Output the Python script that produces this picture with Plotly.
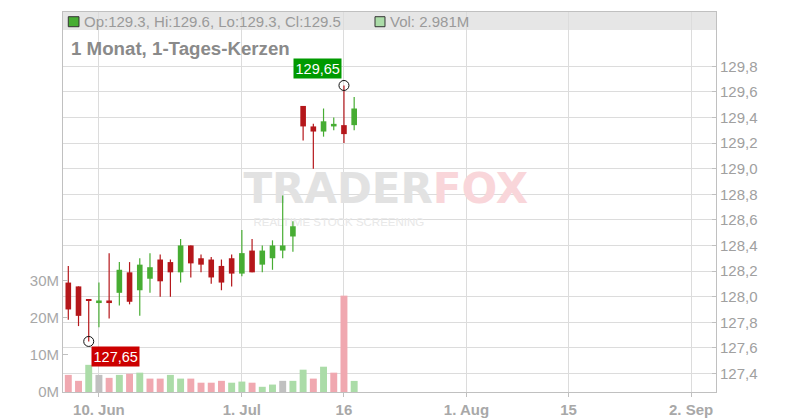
import plotly.graph_objects as go
import pandas as pd

# ---------------- data ----------------
dates = ["2024-06-05", "2024-06-06", "2024-06-07", "2024-06-10", "2024-06-11", "2024-06-12",
         "2024-06-13", "2024-06-14", "2024-06-17", "2024-06-18", "2024-06-20", "2024-06-21",
         "2024-06-24", "2024-06-25", "2024-06-26", "2024-06-27", "2024-06-28", "2024-07-01",
         "2024-07-02", "2024-07-03", "2024-07-05", "2024-07-08", "2024-07-09", "2024-07-10",
         "2024-07-11", "2024-07-12", "2024-07-15", "2024-07-16", "2024-07-17"]
opens = [128.11, 128.08, 127.98, 127.95, 127.97, 128.03, 128.19, 128.05, 128.14, 128.29,
         128.27, 128.19, 128.40, 128.30, 128.29, 128.24, 128.30, 128.18, 128.36, 128.25,
         128.30, 128.36, 128.47, 129.49, 129.33, 129.29, 129.33, 129.34, 129.34]
highs = [128.24, 128.08, 127.98, 128.11, 128.34, 128.27, 128.27, 128.30, 128.34, 128.33,
         128.29, 128.45, 128.40, 128.33, 128.31, 128.29, 128.33, 128.52, 128.45, 128.40,
         128.44, 128.79, 128.59, 129.49, 129.35, 129.47, 129.40, 129.65, 129.56]
lows = [127.82, 127.77, 127.65, 127.76, 127.83, 127.93, 127.94, 127.85, 128.03, 128.00,
        128.00, 128.11, 128.15, 128.19, 128.10, 128.05, 128.08, 128.16, 128.19, 128.19,
        128.21, 128.30, 128.35, 129.22, 129.00, 129.25, 129.30, 129.20, 129.30]
closes = [127.90, 127.85, 127.97, 127.97, 127.95, 128.21, 127.96, 128.25, 128.23, 128.12,
          128.19, 128.40, 128.26, 128.25, 128.15, 128.11, 128.18, 128.34, 128.19, 128.36,
          128.40, 128.40, 128.55, 129.33, 129.29, 129.37, 129.35, 129.27, 129.47]
volumes_m = [4.6, 3.0, 7.3, 4.6, 3.8, 4.6, 4.9, 5.2, 3.6, 3.6, 4.6, 3.6, 3.6, 2.5, 2.5,
             3.0, 2.5, 2.8, 2.5, 1.4, 2.0, 3.0, 3.0, 6.0, 3.6, 6.8, 5.2, 25.9, 2.981]

holidays = ["2024-06-19", "2024-07-04"]
tick_dates = ["2024-06-10", "2024-07-01", "2024-07-16", "2024-08-01", "2024-08-15", "2024-09-02"]
tick_labels = ["10. Jun", "1. Jul", "16", "1. Aug", "15", "2. Sep"]
price_ticks = [127.4, 127.6, 127.8, 128.0, 128.2, 128.4, 128.6, 128.8, 129.0, 129.2, 129.4, 129.6, 129.8]
vol_ticks = [0, 10, 20, 30]
title_text = "1 Monat, 1-Tages-Kerzen"

# ---------------- styles ----------------
FONT = "Liberation Sans, Arial, sans-serif"
RED = "#b5171b"
GREEN = "#47ad33"
V_RED = "#f0a8b0"
V_GREEN = "#abdca8"
V_GRAY = "#c0c0c0"
GRID = "#dcdcdc"
AXIS = "#c0c0c0"

# trading-day calendar -> x index
cal = [d.strftime("%Y-%m-%d") for d in pd.bdate_range("2024-06-05", "2024-09-06")]
cal = [d for d in cal if d not in holidays]
pos = {d: i for i, d in enumerate(cal)}
xs = [pos[d] for d in dates]
tick_x = [pos[d] for d in tick_dates]

up = [c >= o for o, c in zip(opens, closes)]
body_base = [min(o, c) for o, c in zip(opens, closes)]
body_h = [abs(c - o) for o, c in zip(opens, closes)]
body_col = [GREEN if u else RED for u in up]

vol_col = []
for i, c in enumerate(closes):
    ref = closes[i - 1] if i > 0 else opens[0]
    vol_col.append(V_GREEN if c > ref else (V_RED if c < ref else V_GRAY))

fig = go.Figure()

# watermark (drawn first so marks lie above it)
fig.add_trace(go.Scatter(
    x=[31.1], y=[128.81], mode="text",
    text=["<span style='color:#e2e2e2'>TRADER</span><span style='color:#f9d6da'>FOX</span>"],
    textfont=dict(family="DejaVu Sans", size=42, weight="bold"),
    hoverinfo="skip", showlegend=False, cliponaxis=False))
fig.add_trace(go.Scatter(
    x=[26.5], y=[128.575], mode="text", text=["REALTIME STOCK SCREENING"],
    textfont=dict(family=FONT, size=11.5, color="#e8e8e8"),
    hoverinfo="skip", showlegend=False, cliponaxis=False))

# wicks
for flag, col in [(True, GREEN), (False, RED)]:
    wx, wy = [], []
    for x, h, l, u in zip(xs, highs, lows, up):
        if u == flag:
            wx += [x, x, None]
            wy += [l, h, None]
    fig.add_trace(go.Scatter(x=wx, y=wy, mode="lines", line=dict(color=col, width=1.2),
                             hoverinfo="skip", showlegend=False))

# bodies
fig.add_trace(go.Bar(x=xs, y=body_h, base=body_base, width=0.55,
                     marker=dict(color=body_col, line=dict(width=0)),
                     showlegend=False, yaxis="y"))

# volume
fig.add_trace(go.Bar(x=xs, y=volumes_m, width=0.68,
                     marker=dict(color=vol_col, line=dict(width=0)),
                     showlegend=False, yaxis="y2"))

# extremes
imax = max(range(len(highs)), key=lambda i: highs[i])
imin = min(range(len(lows)), key=lambda i: lows[i])
fig.add_trace(go.Scatter(x=[xs[imax], xs[imin]], y=[highs[imax], lows[imin]], mode="markers",
                         marker=dict(symbol="circle-open", size=10, color="#111", line=dict(width=1)),
                         showlegend=False, hoverinfo="skip"))

def fmt(v, n=2):
    return f"{v:.{n}f}".replace(".", ",")

annotations = [
    dict(x=xs[imax], y=highs[imax], xref="x", yref="y", text=fmt(highs[imax]), showarrow=False,
         xanchor="right", yanchor="bottom", xshift=-2, yshift=6, bgcolor="#009a00",
         font=dict(family=FONT, size=14.5, color="white"), borderpad=1.5),
    dict(x=xs[imin], y=lows[imin], xref="x", yref="y", text=fmt(lows[imin]), showarrow=False,
         xanchor="left", yanchor="top", xshift=2, yshift=-5, bgcolor="#cc0000",
         font=dict(family=FONT, size=14.5, color="white"), borderpad=1.5),
    dict(x=0.0291, y=0.975, xref="paper", yref="paper", xanchor="left", yanchor="middle",
         showarrow=False,
         text=f"Op:{opens[-1]:.1f}, Hi:{highs[-1]:.1f}, Lo:{lows[-1]:.1f}, Cl:{closes[-1]:.1f}",
         font=dict(family=FONT, size=15, color="#9a9a9a")),
    dict(x=0.4977, y=0.975, xref="paper", yref="paper", xanchor="left", yanchor="middle",
         showarrow=False, text=f"Vol: {volumes_m[-1]:.3f}M",
         font=dict(family=FONT, size=15, color="#9a9a9a")),
    dict(x=0.0092, y=0.905, xref="paper", yref="paper", xanchor="left", yanchor="middle",
         showarrow=False, text=title_text,
         font=dict(family=FONT, size=18.7, color="#8a8a8a", weight="bold")),
]

shapes = [
    dict(type="rect", xref="paper", yref="paper", x0=0, x1=1, y0=0.9526, y1=1,
         fillcolor="#e6e6e6", line=dict(width=0), layer="below"),
    dict(type="rect", xref="paper", yref="paper", x0=0.0081, x1=0.0245, y0=0.9613, y1=0.9876,
         fillcolor=body_col[-1], line=dict(color="#333", width=1)),
    dict(type="rect", xref="paper", yref="paper", x0=0.4778, x1=0.4931, y0=0.9613, y1=0.9876,
         fillcolor=vol_col[-1], line=dict(color="#333", width=1)),
]

# the page adds an 8px body margin, so margins are shifted to compensate
fig.update_layout(
    width=800, height=420,
    margin=dict(l=55, r=92, t=4, b=36),
    paper_bgcolor="white", plot_bgcolor="white",
    barmode="overlay", showlegend=False, hovermode=False,
    font=dict(family=FONT),
    annotations=annotations, shapes=shapes,
    xaxis=dict(range=[-0.519, 63.44], tickmode="array", tickvals=tick_x, ticktext=tick_labels,
               showgrid=True, gridcolor=GRID, gridwidth=1, zeroline=False,
               showline=True, linecolor=AXIS, linewidth=1, mirror=True,
               ticks="outside", ticklen=4, tickcolor=AXIS,
               tickfont=dict(family=FONT, size=15, color="#a8a8a8", weight="bold")),
    yaxis=dict(side="right", range=[127.255, 130.224], tickmode="array", tickvals=price_ticks,
               ticktext=[fmt(v, 1) for v in price_ticks],
               showgrid=True, gridcolor=GRID, gridwidth=1, zeroline=False,
               showline=True, linecolor=AXIS, linewidth=1,
               ticks="inside", ticklen=4, tickcolor=AXIS,
               tickfont=dict(family=FONT, size=15, color="#a0a0a0")),
    yaxis2=dict(overlaying="y", side="left", range=[0, 102.15], tickmode="array",
                tickvals=vol_ticks, ticktext=[f"{v}M" for v in vol_ticks],
                showgrid=False, zeroline=False, showline=True, linecolor=AXIS, linewidth=1,
                ticks="inside", ticklen=5, tickcolor=AXIS,
                tickfont=dict(family=FONT, size=15, color="#a8a8a8")),
)

fig.write_html("out.html")
